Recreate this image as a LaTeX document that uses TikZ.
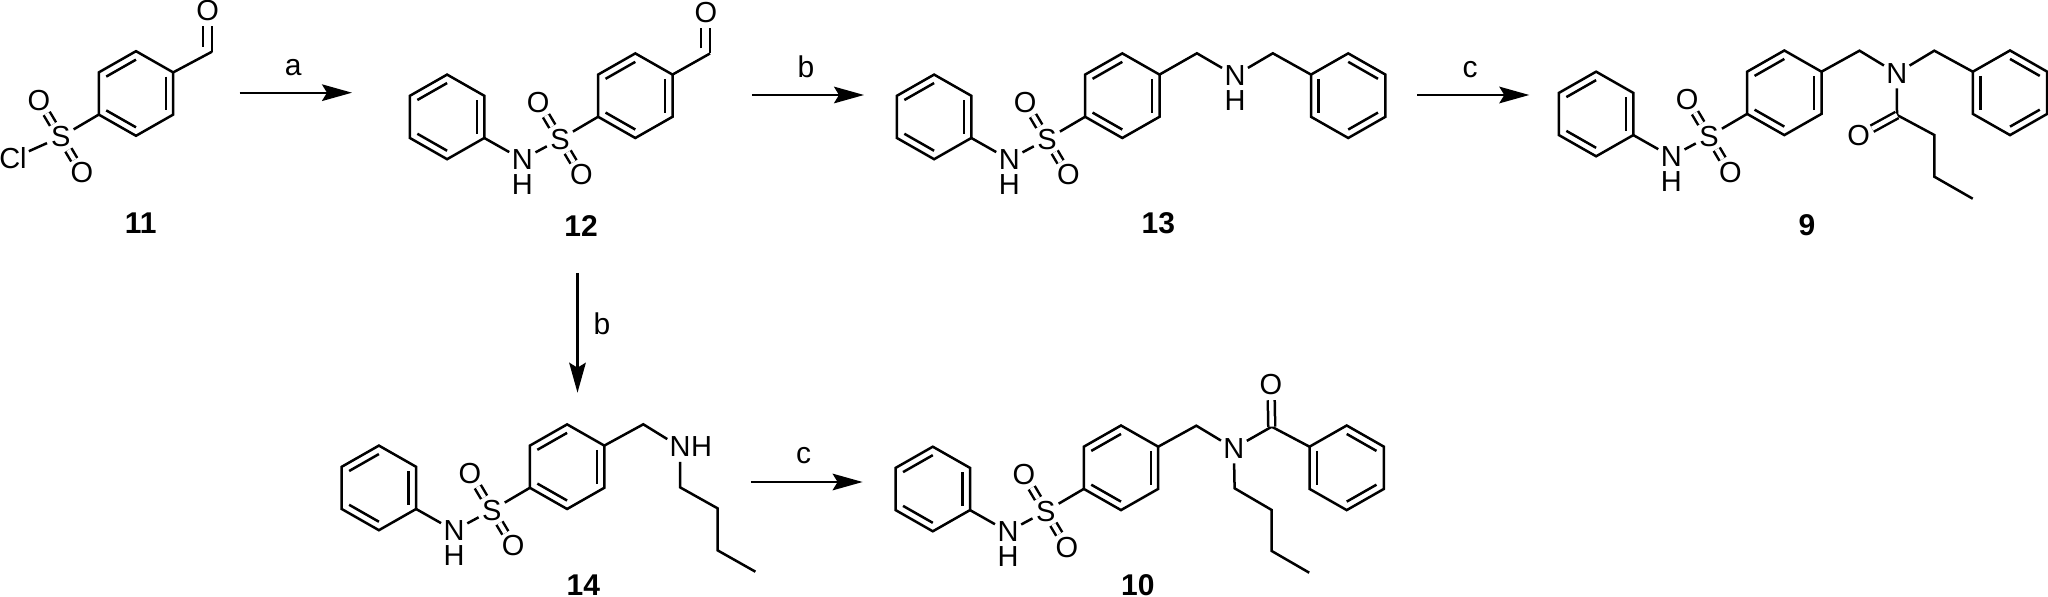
\documentclass[tikz,border=0pt]{standalone}
\usepackage{fontspec}
\setmainfont{Liberation Sans}
\usetikzlibrary{arrows.meta,calc}

\tikzstyle{bond}=[line width=1.25pt, line join=miter]
\tikzstyle{dbl-bond}=[bond, double, double distance=2.2pt]
\tikzstyle{atom}=[circle, inner sep=0pt, outer sep=0pt, minimum size=15pt, font=\fontsize{14.5}{16}\selectfont]
\tikzstyle{hydrogen}=[inner sep=0pt, outer sep=0pt, font=\fontsize{14.5}{16}\selectfont]
\tikzstyle{cpd-label}=[inner sep=0pt, font=\fontsize{15}{17}\selectfont\bfseries]
\tikzstyle{cond-label}=[inner sep=0pt, font=\fontsize{15}{17}\selectfont]
\tikzstyle{rxn-arrow}=[line width=1.15pt, -{Stealth[length=15pt, width=8.3pt, inset=2.5pt]}]

% #1 name, #2 #3 centre, #4 edges that carry the inner line
\newcommand{\benzring}[4]{
  \begin{scope}[shift={(#2,#3)}]
    \coordinate (#1o) at (0,0);
    \coordinate (#1a) at (0,-42.3);
    \coordinate (#1b) at (37.2,-21.1);
    \coordinate (#1c) at (37.2,21.1);
    \coordinate (#1d) at (0,42.3);
    \coordinate (#1e) at (-37.2,21.1);
    \coordinate (#1f) at (-37.2,-21.1);
  \end{scope}
  \draw[bond] (#1a) -- (#1b) -- (#1c) -- (#1d) -- (#1e) -- (#1f) -- cycle;
  \foreach \p/\q in {#4}
    \draw[bond] ($(#1o)!.8!(#1\p)$) -- ($(#1o)!.8!(#1\q)$);
}
% ring with SO2 group
\newcommand{\sulfonyl}[3]{
  \benzring{#1}{#2}{#3}{f/a,b/c,e/d}
  \begin{scope}[shift={(#2,#3)}]
    \node (#1s) at (-75.3,43.5) [atom] {S};
    \node (#1ou) at (-97.1,6.9) [atom] {O};
    \node (#1od) at (-54,79.3) [atom] {O};
  \end{scope}
  \draw[bond] (#1e) -- (#1s);
  \draw[dbl-bond] (#1s) -- (#1ou);
  \draw[dbl-bond] (#1s) -- (#1od);
}
% NH-Ph on the same SO2 group
\newcommand{\anilide}[3]{
  \benzring{#1p}{#2-188.2}{#3+21.2}{f/a,b/c,e/d}
  \begin{scope}[shift={(#2,#3)}]
    \node (#1n) at (-113,63.8) [atom] {N};
    \node (#1h) at (-113,88.5) [hydrogen] {H};
  \end{scope}
  \draw[bond] (#1pc) -- (#1n);
  \draw[bond] (#1n) -- (#1s);
}

\begin{document}
\begin{tikzpicture}[x=0.5pt, y=-0.5pt]
  \useasboundingbox (0,0) rectangle (2048,597);

  % 11
  \sulfonyl{aa}{136}{93.5}
  \node (aacl) at (13,158.3) [atom] {Cl};
  \draw[bond] (aas) -- (aacl);
  \coordinate (aacho) at (212,51.7);
  \coordinate (aachoin) at (203,46.7);
  \node (aaoc) at (207.6,11) [atom] {O};
  \draw[bond] (aab) -- (aacho);
  \draw[bond] (aacho) -- (aacho |- aaoc.south);
  \draw[bond] (aachoin) -- (aachoin |- aaoc.south);
  \node (aalabel) at (140.7,222.7) [cpd-label] {11};

  % 12
  \sulfonyl{bb}{635.3}{95.7}
  \anilide{bb}{635.3}{95.7}
  \coordinate (bbcho) at (710,53.5);
  \coordinate (bbchoin) at (701,48.5);
  \node (bboc) at (706,13) [atom] {O};
  \draw[bond] (bbb) -- (bbcho);
  \draw[bond] (bbcho) -- (bbcho |- bboc.south);
  \draw[bond] (bbchoin) -- (bbchoin |- bboc.south);
  \node (bblabel) at (581,226) [cpd-label] {12};

  % 13
  \sulfonyl{cc}{1122.3}{95.7}
  \anilide{cc}{1122.3}{95.7}
  \coordinate (ccch) at (1196.9,53.3);
  \node (ccnn) at (1235,75.5) [atom] {N};
  \node (cchh) at (1235,100.2) [hydrogen] {H};
  \coordinate (ccbn) at (1272.8,53.3);
  \benzring{ccr}{1348.2}{95.7}{a/b,f/e,d/c}
  \draw[bond] (ccb) -- (ccch) -- (ccnn);
  \draw[bond] (ccnn) -- (ccbn) -- (ccrf);
  \node (cclabel) at (1158.3,223.3) [cpd-label] {13};

  % 9
  \sulfonyl{dd}{1784.3}{92.8}
  \anilide{dd}{1784.3}{92.8}
  \coordinate (ddch) at (1859.5,50.7);
  \node (ddnn) at (1896.7,73.3) [atom] {N};
  \coordinate (ddbn) at (1934.3,50.7);
  \benzring{ddr}{2010}{92.8}{a/b,f/e,d/c}
  \draw[bond] (ddb) -- (ddch) -- (ddnn);
  \draw[bond] (ddnn) -- (ddbn) -- (ddrf);
  \coordinate (ddco) at (1897,115);
  \node (ddoa) at (1858.7,136) [atom] {O};
  \coordinate (ddc1) at (1934.3,135);
  \coordinate (ddc2) at (1934.3,176.7);
  \coordinate (ddc3) at (1972.7,198.7);
  \draw[bond] (ddnn) -- (ddco) -- (ddc1) -- (ddc2) -- (ddc3);
  \draw[dbl-bond] (ddco) -- (ddoa);
  \node (ddlabel) at (1807,225) [cpd-label] {9};

  % 14
  \sulfonyl{ee}{567.1}{466.7}
  \anilide{ee}{567.1}{466.7}
  \coordinate (eech) at (643.3,424.3);
  \node (eenn) at (680,447) [atom] {N};
  \node (eehh) at (701.5,447) [hydrogen] {H};
  \coordinate (eec1) at (680,487.3);
  \coordinate (eec2) at (717.5,508.3);
  \coordinate (eec3) at (717.5,550.3);
  \coordinate (eec4) at (755.4,571.7);
  \draw[bond] (eeb) -- (eech) -- (eenn);
  \draw[bond] (eenn) -- (eec1) -- (eec2) -- (eec3) -- (eec4);
  \node (eelabel) at (583.3,585.3) [cpd-label] {14};

  % 10
  \sulfonyl{ff}{1121}{467.8}
  \anilide{ff}{1121}{467.8}
  \coordinate (ffch) at (1196.3,425.7);
  \node (ffnn) at (1233.8,448.3) [atom] {N};
  \coordinate (ffco) at (1271.7,426.7);
  \node (ffoa) at (1271,385) [atom] {O};
  \benzring{ffr}{1346.7}{467.8}{a/b,f/e,d/c}
  \coordinate (ffc1) at (1234.6,488.3);
  \coordinate (ffc2) at (1271.7,510);
  \coordinate (ffc3) at (1271.7,551);
  \coordinate (ffc4) at (1309.2,572.7);
  \draw[bond] (ffb) -- (ffch) -- (ffnn);
  \draw[bond] (ffnn) -- (ffco) -- (ffrf);
  \draw[dbl-bond] (ffco) -- (ffoa);
  \draw[bond] (ffnn) -- (ffc1) -- (ffc2) -- (ffc3) -- (ffc4);
  \node (fflabel) at (1137.8,585.3) [cpd-label] {10};

  % arrows
  \coordinate (step1s) at (239.7,92.7);
  \coordinate (step1e) at (352,92.7);
  \draw[rxn-arrow] (step1s) -- (step1e);
  \node (step1) at (293.3,67.3) [cond-label] {a};
  \coordinate (step2s) at (751.8,95);
  \coordinate (step2e) at (864,95);
  \draw[rxn-arrow] (step2s) -- (step2e);
  \node (step2) at (806,66.7) [cond-label] {b};
  \coordinate (step3s) at (1417.4,95);
  \coordinate (step3e) at (1529.3,95);
  \draw[rxn-arrow] (step3s) -- (step3e);
  \node (step3) at (1470,69.3) [cond-label] {c};
  \coordinate (step4s) at (577.5,273);
  \coordinate (step4e) at (577.5,392.7);
  \draw[rxn-arrow] (step4s) -- (step4e);
  \node (step4) at (602,324) [cond-label] {b};
  \coordinate (step5s) at (750.8,482);
  \coordinate (step5e) at (862.6,482);
  \draw[rxn-arrow] (step5s) -- (step5e);
  \node (step5) at (803.6,456) [cond-label] {c};
\end{tikzpicture}
\end{document}
